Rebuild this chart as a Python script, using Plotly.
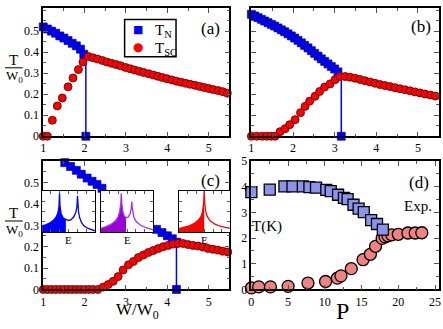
import plotly.graph_objects as go

W, H = 443, 329
FONT = "Liberation Serif"
BLUE = "#0000ff"
RED = "#ff0000"
PURPLE = "#9a00d6"

# panel (a)
a_tn_x = [1.0, 1.1, 1.2, 1.3, 1.4, 1.5, 1.6, 1.7, 1.8, 1.9, 1.98]
a_tn_y = [0.52, 0.51, 0.50, 0.49, 0.477, 0.467, 0.455, 0.442, 0.43, 0.414, 0.39]
a_tsc_x = [1.0, 1.1, 1.22, 1.34, 1.46, 1.6, 1.72, 1.85, 1.96,
           2.09, 2.20, 2.31, 2.43, 2.54, 2.65, 2.76, 2.87, 2.99, 3.10, 3.21, 3.32,
           3.43, 3.55, 3.66, 3.77, 3.88, 3.99, 4.11, 4.22, 4.33, 4.44, 4.55, 4.67,
           4.78, 4.89, 5.00, 5.11, 5.23, 5.34, 5.45]
a_tsc_y = [0.0, 0.0, 0.076, 0.144, 0.182, 0.235, 0.277, 0.317, 0.353,
           0.379, 0.373, 0.367, 0.360, 0.353, 0.347, 0.341, 0.335, 0.327, 0.321, 0.315, 0.309,
           0.303, 0.297, 0.291, 0.285, 0.279, 0.274, 0.268, 0.262, 0.257, 0.252, 0.247, 0.242,
           0.237, 0.232, 0.227, 0.222, 0.217, 0.212, 0.205]

# panel (b)
b_tn_x = [1.00, 1.08, 1.16, 1.24, 1.32, 1.40, 1.48, 1.56, 1.64, 1.72, 1.80, 1.88, 1.96,
          2.04, 2.12, 2.20, 2.28, 2.36, 2.44, 2.52, 2.60, 2.68, 2.76, 2.84, 2.92, 3.00, 3.08]
b_tn_y = [0.580, 0.572, 0.564, 0.556, 0.548, 0.540, 0.532, 0.524, 0.515, 0.506, 0.497, 0.487,
          0.477, 0.467, 0.456, 0.444, 0.432, 0.420, 0.407, 0.394, 0.381, 0.368, 0.356, 0.344,
          0.332, 0.320, 0.306]
b_tsc_x = [1.0, 1.13, 1.26, 1.37, 1.47, 1.57, 1.69, 1.81, 1.92, 2.05, 2.18, 2.29, 2.40, 2.53,
           2.64, 2.76, 2.89, 3.01, 3.13, 3.25, 3.37, 3.49, 3.61, 3.73, 3.85, 3.97, 4.09, 4.21,
           4.33, 4.45, 4.57, 4.69, 4.81, 4.93, 5.05, 5.17, 5.30, 5.42]
b_tsc_y = [0.0, 0.0, 0.0, 0.0, 0.0, 0.0, 0.022, 0.036, 0.055, 0.079, 0.112, 0.142, 0.167, 0.19,
           0.213, 0.234, 0.249, 0.269, 0.284, 0.284, 0.281, 0.276, 0.270, 0.264, 0.258, 0.252,
           0.246, 0.241, 0.236, 0.231, 0.226, 0.221, 0.216, 0.211, 0.206, 0.201, 0.196, 0.191]

# panel (c)
c_tn_x = [1.52, 1.66, 1.80, 1.92, 2.06, 2.18, 2.30, 2.42, 3.74, 3.87, 4.00, 4.12, 4.23]
c_tn_y = [0.593, 0.575, 0.557, 0.539, 0.521, 0.506, 0.491, 0.473, 0.281, 0.266, 0.251, 0.237, 0.221]
c_tsc_x = [1.0, 1.1, 1.2, 1.3, 1.4, 1.5, 1.6, 1.7, 1.8, 1.9, 2.0, 2.1, 2.2, 2.32,
           2.45, 2.57, 2.69, 2.81, 2.93, 3.06, 3.18, 3.30, 3.42, 3.54, 3.66, 3.78, 3.90,
           4.02, 4.14, 4.26, 4.38, 4.50, 4.62, 4.74, 4.86, 4.98, 5.10, 5.22, 5.34, 5.46]
c_tsc_y = [0.0, 0.0, 0.0, 0.0, 0.0, 0.0, 0.0, 0.0, 0.0, 0.0, 0.0, 0.0, 0.0, 0.0,
           0.011, 0.023, 0.038, 0.06, 0.091, 0.115, 0.131, 0.149, 0.161, 0.173, 0.182, 0.191,
           0.200, 0.206, 0.212, 0.215, 0.215, 0.210, 0.206, 0.203, 0.198, 0.192, 0.188,
           0.184, 0.179, 0.175]

# critical points (vertical drop) for a, b, c
crit_x = [2.03, 3.16, 4.22]
crit_top = [0.377, 0.285, 0.221]

# panel (d): experiment
d_tn_p = [0.0, 2.5, 4.5, 5.6, 7.0, 7.9, 8.8, 10.2, 10.8, 11.8, 12.6, 13.1, 13.9, 14.6,
          15.3, 16.3, 17.1, 17.9]
d_tn_t = [3.79, 3.89, 4.02, 4.02, 4.02, 3.99, 3.97, 3.88, 3.83, 3.69, 3.57, 3.52, 3.30,
          3.15, 3.01, 2.70, 2.55, 2.33]
d_tsc_p = [0.0, 1.0, 2.6, 5.0, 7.7, 10.1, 11.7, 12.2, 13.6, 15.2, 16.2, 16.9, 17.8, 18.2,
           18.6, 19.1, 20.0, 21.3, 22.3, 23.2]
d_tsc_t = [0.06, 0.1, 0.1, 0.12, 0.25, 0.31, 0.44, 0.53, 0.81, 1.16, 1.37, 1.68, 1.99, 2.05,
           2.09, 2.13, 2.15, 2.20, 2.20, 2.21]

# inset densities of states (relative units)
dos1_e = [0, 0.08, 0.16, 0.22, 0.27, 0.30, 0.32, 0.33, 0.34, 0.36, 0.40, 0.45, 0.50, 0.55,
          0.60, 0.64, 0.66, 0.67, 0.68, 0.69, 0.71, 0.75, 0.80, 0.88, 1.0]
dos1_n = [0.15, 0.18, 0.23, 0.29, 0.37, 0.47, 0.62, 0.95, 0.62, 0.45, 0.34, 0.30, 0.28, 0.30,
          0.37, 0.48, 0.62, 0.88, 0.62, 0.48, 0.35, 0.22, 0.14, 0.08, 0.03]
dos1_fill = 0.45
dos2_e = [0, 0.1, 0.2, 0.28, 0.33, 0.36, 0.38, 0.39, 0.40, 0.42, 0.45, 0.48, 0.52, 0.56,
          0.58, 0.59, 0.60, 0.61, 0.63, 0.67, 0.75, 0.85, 1.0]
dos2_n = [0.09, 0.13, 0.19, 0.27, 0.37, 0.5, 0.7, 0.94, 0.68, 0.48, 0.38, 0.35, 0.36, 0.45,
          0.58, 0.74, 0.58, 0.46, 0.36, 0.26, 0.17, 0.11, 0.05]
dos2_fill = 0.48
dos3_e = [0, 0.1, 0.2, 0.3, 0.38, 0.43, 0.46, 0.48, 0.49, 0.50, 0.52, 0.55, 0.6, 0.7, 0.8,
          0.9, 1.0]
dos3_n = [0.08, 0.11, 0.15, 0.21, 0.29, 0.38, 0.5, 0.7, 1.0, 0.7, 0.5, 0.38, 0.28, 0.19,
          0.14, 0.11, 0.09]
dos3_fill = 0.49

w_ticks = [0, 0.1, 0.2, 0.3, 0.4, 0.5]


def px(x):
    return x / W


def py(y):
    return 1 - y / H


def frame(**kw):
    d = dict(showline=True, linecolor="black", linewidth=1.5, mirror="ticks",
             ticks="inside", ticklen=5, tickwidth=1, tickcolor="#555",
             showgrid=False, zeroline=False,
             tickfont=dict(family=FONT, size=12, color="black"))
    d.update(kw)
    return d


def minor(step):
    return dict(ticks="inside", ticklen=3, tickcolor="#555", dtick=step, showgrid=False)


fig = go.Figure()

sq = dict(symbol="square", size=8, color=BLUE, line=dict(color="#000060", width=0.6))
ci = dict(symbol="circle", size=8, color=RED, line=dict(color="#500000", width=0.8))

panels = [("x", "y", a_tn_x, a_tn_y, a_tsc_x, a_tsc_y),
          ("x2", "y2", b_tn_x, b_tn_y, b_tsc_x, b_tsc_y),
          ("x3", "y3", c_tn_x, c_tn_y, c_tsc_x, c_tsc_y)]
for i, (xa, ya, tnx, tny, tscx, tscy) in enumerate(panels):
    fig.add_trace(go.Scatter(x=[crit_x[i], crit_x[i]], y=[crit_top[i], 0], mode="lines",
                             line=dict(color=BLUE, width=1.5), xaxis=xa, yaxis=ya,
                             showlegend=False, hoverinfo="skip"))
    fig.add_trace(go.Scatter(x=tnx + [crit_x[i]], y=tny + [0], mode="markers", marker=sq,
                             name="T<sub>N</sub>", xaxis=xa, yaxis=ya, cliponaxis=False,
                             showlegend=False))
    fig.add_trace(go.Scatter(x=tscx, y=tscy, mode="markers", marker=ci,
                             name="T<sub>SC</sub>", xaxis=xa, yaxis=ya, cliponaxis=False,
                             showlegend=False))

fig.add_trace(go.Scatter(x=d_tsc_p, y=d_tsc_t, mode="markers", xaxis="x4", yaxis="y4",
                         marker=dict(symbol="circle", size=12, color="#f08282",
                                     line=dict(color="black", width=1.3)),
                         cliponaxis=False, showlegend=False))
fig.add_trace(go.Scatter(x=d_tn_p, y=d_tn_t, mode="markers", xaxis="x4", yaxis="y4",
                         marker=dict(symbol="square", size=11, color="#8a94ec",
                                     line=dict(color="black", width=1.3)),
                         cliponaxis=False, showlegend=False))

insets = [("x5", "y5", dos1_e, dos1_n, dos1_fill, BLUE, BLUE),
          ("x6", "y6", dos2_e, dos2_n, dos2_fill, PURPLE, "#a632e0"),
          ("x7", "y7", dos3_e, dos3_n, dos3_fill, RED, RED)]
for xa, ya, e, n, cut, fc, lc in insets:
    fe = [v for v in e if v <= cut]
    fn = n[:len(fe)]
    fig.add_trace(go.Scatter(x=fe + [fe[-1]], y=fn + [0], mode="lines", fill="tozeroy",
                             fillcolor=fc, line=dict(color=fc, width=0), xaxis=xa, yaxis=ya,
                             showlegend=False, hoverinfo="skip"))
    fig.add_trace(go.Scatter(x=e, y=n, mode="lines", line=dict(color=lc, width=1.3),
                             xaxis=xa, yaxis=ya, showlegend=False, hoverinfo="skip"))

top_ab = [py(135), py(1)]
top_cd = [py(295), py(161)]
left = [px(40.7), px(229)]
right = [px(251.2), px(440.7)]

layout = dict(
    width=W, height=H, margin=dict(l=0, r=0, t=0, b=0),
    paper_bgcolor="white", plot_bgcolor="white",
    font=dict(family=FONT, color="black"), showlegend=False,
    xaxis=frame(domain=left, range=[1, 5.5], tick0=1, dtick=1, anchor="y", minor=minor(0.5)),
    yaxis=frame(domain=top_ab, range=[0, 0.61], tickvals=w_ticks, anchor="x",
                minor=minor(0.05)),
    xaxis2=frame(domain=right, range=[1, 5.5], tick0=1, dtick=1, anchor="y2", minor=minor(0.5)),
    yaxis2=frame(domain=top_ab, range=[0, 0.61], tickvals=w_ticks, anchor="x2",
                 showticklabels=False, minor=minor(0.05)),
    xaxis3=frame(domain=left, range=[1, 5.5], tick0=1, dtick=1, anchor="y3", minor=minor(0.5)),
    yaxis3=frame(domain=top_cd, range=[0, 0.6], tickvals=w_ticks, anchor="x3",
                 minor=minor(0.05)),
    xaxis4=frame(domain=right, range=[0, 25.5], dtick=5, anchor="y4", minor=minor(2.5)),
    yaxis4=frame(domain=top_cd, range=[0, 5], dtick=1, anchor="x4", minor=minor(0.5)),
)

inset_dom = [(39.5, 93), (99, 152), (178, 230)]
for k, (x0, x1) in enumerate(inset_dom):
    n = k + 5
    layout[f"xaxis{n}"] = dict(domain=[px(x0), px(x1)], range=[0, 1], anchor=f"y{n}",
                               showline=True, linecolor="black", linewidth=1, mirror="ticks",
                               ticks="inside", ticklen=3, tickcolor="#555", dtick=1 / 6,
                               showticklabels=False, showgrid=False, zeroline=False)
    layout[f"yaxis{n}"] = dict(domain=[py(235), py(192)], range=[0, 1], anchor=f"x{n}",
                               showline=True, linecolor="black", linewidth=1, mirror="ticks",
                               ticks="inside", ticklen=3, tickcolor="#555", dtick=0.25,
                               showticklabels=False, showgrid=False, zeroline=False)

fig.update_layout(**layout)

ann = []


def text(x, y, s, size, color="black", family=FONT, xanchor="center"):
    ann.append(dict(x=px(x), y=py(y), xref="paper", yref="paper", text=s, showarrow=False,
                    xanchor=xanchor, yanchor="middle",
                    font=dict(family=family, size=size, color=color)))


text(210, 22, "(a)", 17)
text(423, 20, "(b)", 17)
text(210, 181, "(c)", 17)
text(421, 183, "(d)", 17)
text(420, 208, "Exp.", 15)
text(267, 229, "T(K)", 15)
text(136, 318, "W/W<sub>0</sub>", 17)
text(343, 318, "P", 24)
for x0, x1 in inset_dom:
    text((x0 + x1) / 2, 243, "E", 11)
for yc in (0, 160):
    text(11, 55 + yc, "T", 15)
    text(12, 73 + yc, "W<sub>0</sub>", 13)

# legend of panel (a)
text(137, 24, "■", 11, color=BLUE, family="DejaVu Sans")
text(137, 42, "●", 12, color=RED, family="DejaVu Sans")
text(152, 25, "T<sub>N</sub>", 15, xanchor="left")
text(152, 43.5, "T<sub>SC</sub>", 15, xanchor="left")
fig.update_layout(annotations=ann)

shapes = [dict(type="rect", xref="paper", yref="paper", x0=px(123), x1=px(175),
               y0=py(52), y1=py(13), line=dict(color="black", width=1.5))]
for yc in (0, 160):
    shapes.append(dict(type="line", xref="paper", yref="paper", x0=px(2), x1=px(20),
                       y0=py(63.5 + yc), y1=py(63.5 + yc), line=dict(color="black", width=1)))
fig.update_layout(shapes=shapes)

fig.write_html("out.html", config={"displayModeBar": False},
               post_script="document.body.style.margin='0';document.body.style.overflow='hidden';")
